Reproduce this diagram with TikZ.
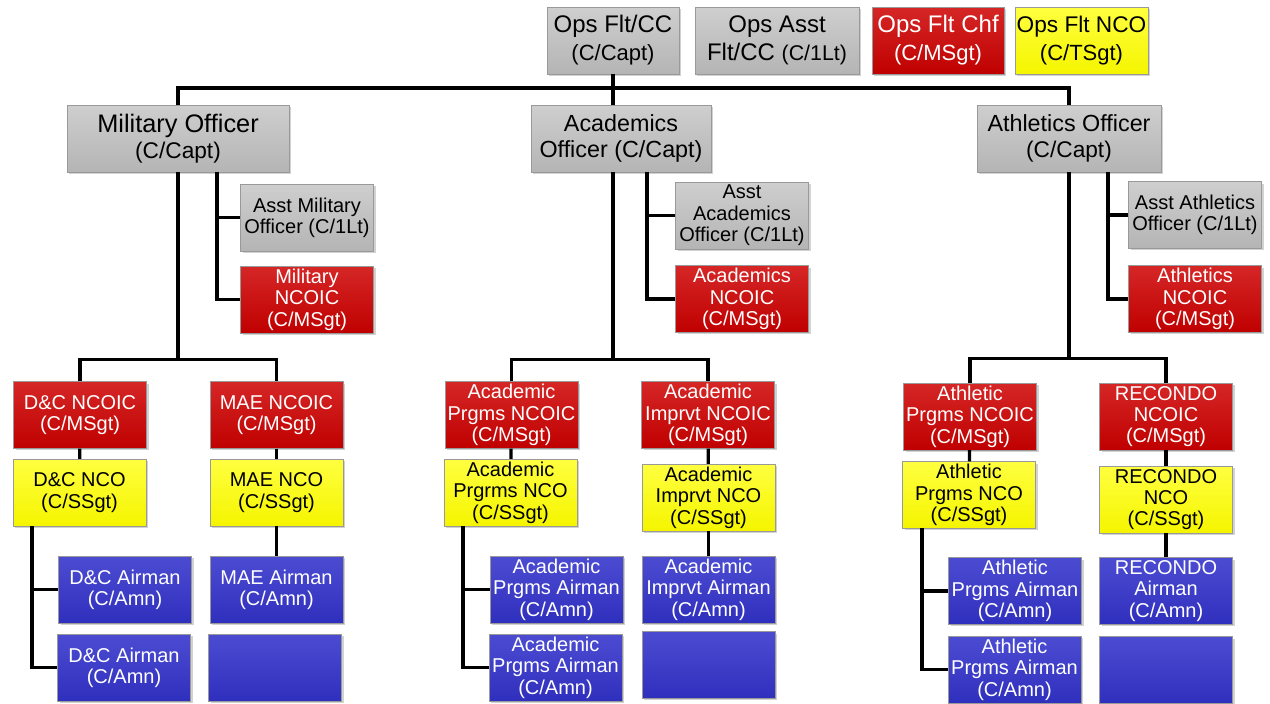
\documentclass[tikz,border=0pt]{standalone}
\usepackage{fontspec}
\setmainfont{Liberation Sans}
\usepackage{xcolor}
\usepackage{tikz}
\usetikzlibrary{shadows}
\definecolor{boxgray}{RGB}{190, 190, 190}
\definecolor{boxred}{RGB}{206, 0, 0}
\definecolor{boxyellow}{RGB}{255, 255, 0}
\definecolor{boxblue}{RGB}{51, 51, 204}

\tikzset{
  box/.style={draw=black!40, line width=0.5pt, align=center, inner sep=1pt,
    minimum width=99.75pt, minimum height=50pt, font=\fontsize{15}{16}\selectfont,
    drop shadow={shadow xshift=1.5pt, shadow yshift=-1.5pt, opacity=0.35}},
  graybox/.style={box, top color=boxgray!75!white, middle color=boxgray, bottom color=boxgray!95!black, text=black},
  redbox/.style={box, top color=boxred!85!white, middle color=boxred, bottom color=boxred!93!black, text=white},
  yellowbox/.style={box, top color=boxyellow!75!white, middle color=boxyellow, bottom color=boxyellow!96!black, text=black},
  bluebox/.style={box, top color=boxblue!88!white, middle color=boxblue, bottom color=boxblue!93!black, text=white},
  conn/.style={line width=2.5pt, black},
}

\begin{document}
\begin{tikzpicture}[x=0.75pt,y=0.75pt,yscale=-1,xscale=1]
\fill [white] (0,0) rectangle (1270,703);
\useasboundingbox (0,0) rectangle (1270,703);

% Top row
\node [graybox, minimum width=99pt, font=\fontsize{18}{21}\selectfont] (opscc) at (613,40.5) {Ops Flt/CC\\{\fontsize{16.5}{21}\selectfont (C/Capt)}};
\node [graybox, minimum width=123pt, font=\fontsize{18}{21}\selectfont] (opsasst) at (777,40.5) {Ops Asst\\Flt/CC {\fontsize{16}{21}\selectfont (C/1Lt)}};
\node [redbox, minimum width=99pt, font=\fontsize{18}{21}\selectfont] (opschf) at (938,40.5) {Ops Flt Chf\\{\fontsize{16.5}{21}\selectfont (C/MSgt)}};
\node [yellowbox, minimum width=99.75pt, font=\fontsize{17}{21}\selectfont] (opsnco) at (1081.5,40.5) {Ops Flt NCO\\{\fontsize{16.5}{21}\selectfont (C/TSgt)}};

% Officers
\node [graybox, minimum width=166.5pt, font=\fontsize{19}{19.5}\selectfont] (milo) at (178,138.5) {Military Officer\\{\fontsize{17}{19.5}\selectfont (C/Capt)}};
\node [graybox, minimum width=135pt, font=\fontsize{17.5}{19.5}\selectfont] (acado) at (621,138.5) {Academics\\Officer (C/Capt)};
\node [graybox, minimum width=138pt, font=\fontsize{17.5}{19.5}\selectfont] (athlo) at (1069,138.5) {Athletics Officer\\{\fontsize{17}{19.5}\selectfont (C/Capt)}};

% Assistants and NCOICs beside the officers
\node [graybox] (asstmil) at (307,217.5) {Asst Military\\Officer (C/1Lt)};
\node [redbox] (milncoic) at (307,299.5) {Military\\NCOIC\\(C/MSgt)};
\node [graybox] (asstacad) at (742,215.5) {Asst\\Academics\\Officer (C/1Lt)};
\node [redbox] (acadncoic) at (742,299) {Academics\\NCOIC\\(C/MSgt)};
\node [graybox] (asstath) at (1195,215) {Asst Athletics\\Officer (C/1Lt)};
\node [redbox] (athncoic) at (1195,299) {Athletics\\NCOIC\\(C/MSgt)};

% Section NCOICs
\node [redbox] (dcncoic) at (80,415) {D\&C NCOIC\\(C/MSgt)};
\node [redbox] (maencoic) at (276.5,415) {MAE NCOIC\\(C/MSgt)};
\node [redbox] (apncoic) at (511.5,415) {Academic\\Prgms NCOIC\\(C/MSgt)};
\node [redbox] (aincoic) at (708,415) {Academic\\Imprvt NCOIC\\(C/MSgt)};
\node [redbox] (atncoic) at (970,416.5) {Athletic\\Prgms NCOIC\\(C/MSgt)};
\node [redbox] (rcncoic) at (1166,416.5) {RECONDO\\NCOIC\\(C/MSgt)};

% Section NCOs
\node [yellowbox] (dcnco) at (79.5,492.5) {D\&C NCO\\(C/SSgt)};
\node [yellowbox] (maenco) at (276.5,492.5) {MAE NCO\\(C/SSgt)};
\node [yellowbox] (apnco) at (510.5,492.5) {Academic\\Prgrms NCO\\(C/SSgt)};
\node [yellowbox] (ainco) at (708.5,497.5) {Academic\\Imprvt NCO\\(C/SSgt)};
\node [yellowbox] (atnco) at (969,495) {Athletic\\Prgms NCO\\(C/SSgt)};
\node [yellowbox] (rcnco) at (1166,499.5) {RECONDO\\NCO\\(C/SSgt)};

% Airmen
\node [bluebox] (dcair) at (125,589.5) {D\&C Airman\\(C/Amn)};
\node [bluebox] (dcairb) at (124,667.5) {D\&C Airman\\(C/Amn)};
\node [bluebox] (maeair) at (276.5,589.5) {MAE Airman\\(C/Amn)};
\node [bluebox] (maeblank) at (275,667.5) {};
\node [bluebox] (apair) at (556.5,589.5) {Academic\\Prgms Airman\\(C/Amn)};
\node [bluebox] (apairb) at (555.5,667.5) {Academic\\Prgms Airman\\(C/Amn)};
\node [bluebox] (aiair) at (708.5,589.5) {Academic\\Imprvt Airman\\(C/Amn)};
\node [bluebox] (aiblank) at (708.5,665) {};
\node [bluebox] (atair) at (1015,591) {Athletic\\Prgms Airman\\(C/Amn)};
\node [bluebox] (atairb) at (1014.5,669.5) {Athletic\\Prgms Airman\\(C/Amn)};
\node [bluebox] (rcair) at (1166,591) {RECONDO\\Airman\\(C/Amn)};
\node [bluebox] (rcblank) at (1166,670) {};

%Straight Lines
\draw [conn] (opscc.south) -- (opscc.south |- acado.north) ;
\draw [conn] (milo.north) -- ++(0,-17) -| (athlo.north) ;

%Straight Lines
\coordinate (milside) at (217,172) ;
\coordinate (acadside) at (647,172) ;
\coordinate (athside) at (1108,172) ;
\draw [conn] (milside) |- (milncoic.west) ;
\draw [conn] (asstmil.west) -- (asstmil.west -| milside) ;
\draw [conn] (acadside) |- (acadncoic.west) ;
\draw [conn] (asstacad.west) -- (asstacad.west -| acadside) ;
\draw [conn] (athside) |- (athncoic.west) ;
\draw [conn] (asstath.west) -- (asstath.west -| athside) ;

%Straight Lines
\draw [conn] (milo.south) -- ++(0,187) coordinate (milbus) ;
\draw [conn] (dcncoic.north) |- (milbus) -| (maencoic.north) ;
\draw [conn] (acado.south -| opscc.south) -- ++(0,187) coordinate (acadbus) ;
\draw [conn] (apncoic.north) |- (acadbus) -| (aincoic.north) ;
\draw [conn] (athlo.south) -- ++(0,186) coordinate (athbus) ;
\draw [conn] (atncoic.north) |- (athbus) -| (rcncoic.north) ;

%Straight Lines
\draw [conn] (dcncoic) -- (dcnco) ;
\draw [conn] (maencoic) -- (maenco) ;
\draw [conn] (apncoic) -- (apnco) ;
\draw [conn] (aincoic) -- (ainco) ;
\draw [conn] (atncoic) -- (atnco) ;
\draw [conn] (rcncoic) -- (rcnco) ;

%Straight Lines
\coordinate (dcside) at (32,526) ;
\coordinate (apside) at (463,526) ;
\coordinate (atside) at (922,528) ;
\draw [conn] (dcside) |- (dcairb.west) ;
\draw [conn] (dcair.west) -- (dcair.west -| dcside) ;
\draw [conn] (maenco) -- (maeair) ;
\draw [conn] (apside) |- (apairb.west) ;
\draw [conn] (apair.west) -- (apair.west -| apside) ;
\draw [conn] (ainco) -- (aiair) ;
\draw [conn] (atside) |- (atairb.west) ;
\draw [conn] (atair.west) -- (atair.west -| atside) ;
\draw [conn] (rcnco) -- (rcair) ;

\end{tikzpicture}
\end{document}
